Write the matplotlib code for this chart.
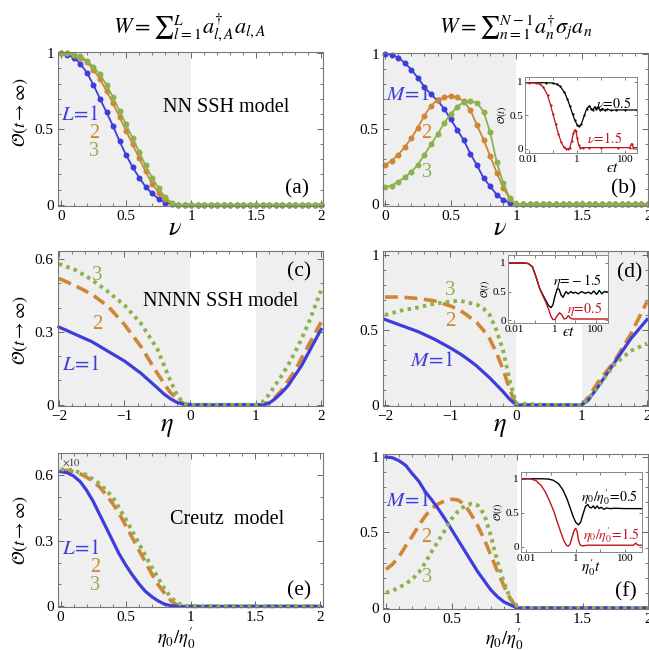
import matplotlib
matplotlib.use('Agg')
import matplotlib.pyplot as plt
from matplotlib.ticker import MultipleLocator, NullFormatter, LogLocator

plt.rcParams['font.family'] = ['Liberation Serif', 'DejaVu Serif']
plt.rcParams['mathtext.fontset'] = 'stix'

BLUE = '#3d3ddb'
ORANGE = '#d08636'
GREEN = '#8bb24c'
RED = '#c0141c'
SHADE = '#efefef'

# ---------------- data ----------------
# panel (a): NN SSH, W = sum a^dag_{l,A} a_{l,A}
nu_a = [0.00, 0.05, 0.10, 0.15, 0.20, 0.25, 0.30, 0.35, 0.40, 0.45, 0.50, 0.55, 0.60, 0.65,
        0.70, 0.75, 0.80, 0.85, 0.90, 0.95, 1.00, 1.05, 1.10, 1.15, 1.20, 1.25, 1.30, 1.35,
        1.40, 1.45, 1.50, 1.55, 1.60, 1.65, 1.70, 1.75, 1.80, 1.85, 1.90, 1.95, 2.00]
a_L1 = [1.0, 0.99, 0.97, 0.93, 0.87, 0.79, 0.70, 0.61, 0.52, 0.42, 0.33, 0.25, 0.18, 0.12,
        0.075, 0.04, 0.015, 0.003, 0.0, 0.0, 0.0, 0.0, 0.0, 0.0, 0.0, 0.0, 0.0, 0.0,
        0.0, 0.0, 0.0, 0.0, 0.0, 0.0, 0.0, 0.0, 0.0, 0.0, 0.0, 0.0, 0.0]
a_L2 = [1.0, 1.0, 0.99, 0.97, 0.94, 0.89, 0.83, 0.75, 0.67, 0.58, 0.49, 0.40, 0.31, 0.22,
        0.14, 0.08, 0.035, 0.008, 0.0, 0.0, 0.0, 0.0, 0.0, 0.0, 0.0, 0.0, 0.0, 0.0,
        0.0, 0.0, 0.0, 0.0, 0.0, 0.0, 0.0, 0.0, 0.0, 0.0, 0.0, 0.0, 0.0]
a_L3 = [1.0, 1.0, 0.99, 0.98, 0.95, 0.91, 0.86, 0.79, 0.71, 0.62, 0.53, 0.44, 0.35, 0.26,
        0.18, 0.11, 0.05, 0.015, 0.0, 0.0, 0.0, 0.0, 0.0, 0.0, 0.0, 0.0, 0.0, 0.0,
        0.0, 0.0, 0.0, 0.0, 0.0, 0.0, 0.0, 0.0, 0.0, 0.0, 0.0, 0.0, 0.0]

# panel (b): NN SSH, W = sum a^dag_n sigma_j a_n
nu_b = nu_a
b_M1 = [1.0, 0.995, 0.975, 0.94, 0.895, 0.84, 0.78, 0.73, 0.69, 0.635, 0.565, 0.495, 0.425,
        0.335, 0.26, 0.175, 0.12, 0.065, 0.03, 0.012, 0.0, 0.0, 0.0, 0.0, 0.0, 0.0, 0.0,
        0.0, 0.0, 0.0, 0.0, 0.0, 0.0, 0.0, 0.0, 0.0, 0.0, 0.0, 0.0, 0.0, 0.0]
b_M2 = [0.26, 0.29, 0.33, 0.38, 0.44, 0.51, 0.59, 0.655, 0.695, 0.71, 0.72, 0.71, 0.685,
        0.625, 0.525, 0.43, 0.32, 0.21, 0.11, 0.035, 0.0, 0.0, 0.0, 0.0, 0.0, 0.0, 0.0,
        0.0, 0.0, 0.0, 0.0, 0.0, 0.0, 0.0, 0.0, 0.0, 0.0, 0.0, 0.0, 0.0, 0.0]
b_M3 = [0.115, 0.125, 0.15, 0.18, 0.215, 0.265, 0.33, 0.40, 0.465, 0.54, 0.60, 0.65, 0.68,
        0.685, 0.675, 0.615, 0.48, 0.28, 0.14, 0.04, 0.0, 0.0, 0.0, 0.0, 0.0, 0.0, 0.0,
        0.0, 0.0, 0.0, 0.0, 0.0, 0.0, 0.0, 0.0, 0.0, 0.0, 0.0, 0.0, 0.0, 0.0]

# inset (b)
tb_black = [0.006, 0.05, 0.1, 0.15, 0.2, 0.3, 0.4, 0.5, 0.65, 0.8, 1.0, 1.2, 1.5, 2.0, 2.5,
            3.2, 3.8, 4.5, 5.3, 6.3, 7.5, 9.0, 11, 14, 18, 25, 40, 100, 300]
ob_black = [0.985, 0.985, 0.98, 0.96, 0.93, 0.84, 0.74, 0.64, 0.52, 0.43, 0.36, 0.335, 0.37,
            0.50, 0.60, 0.64, 0.60, 0.58, 0.625, 0.59, 0.62, 0.575, 0.60, 0.575, 0.59, 0.575,
            0.58, 0.58, 0.58]
tb_red = [0.006, 0.01, 0.02, 0.03, 0.04, 0.06, 0.08, 0.1, 0.13, 0.17, 0.22, 0.28, 0.35, 0.42,
          0.5, 0.6, 0.7, 0.8, 0.9, 1.0, 1.15, 1.35, 1.7, 3, 10, 50, 150, 180, 210, 300]
ob_red = [0.985, 0.985, 0.98, 0.96, 0.92, 0.80, 0.65, 0.52, 0.37, 0.22, 0.10, 0.03, 0.005, 0.0,
          0.02, 0.12, 0.23, 0.285, 0.26, 0.17, 0.06, 0.015, 0.02, 0.02, 0.02, 0.02, 0.02, 0.08,
          0.02, 0.02]

# panel (c): NNNN SSH, W = sum a^dag_{l,A} a_{l,A}
eta_c = [-2.0, -1.75, -1.5, -1.25, -1.0, -0.75, -0.5, -0.4, -0.3, -0.2, -0.1, 0.0, 0.5, 1.0,
         1.1, 1.2, 1.3, 1.4, 1.5, 1.6, 1.7, 1.8, 1.9, 2.0]
c_L1 = [0.32, 0.29, 0.26, 0.22, 0.18, 0.13, 0.07, 0.045, 0.025, 0.01, 0.002, 0.0, 0.0, 0.0,
        0.0, 0.005, 0.025, 0.05, 0.08, 0.12, 0.16, 0.21, 0.26, 0.31]
c_L2 = [0.52, 0.49, 0.455, 0.405, 0.33, 0.24, 0.13, 0.09, 0.05, 0.025, 0.005, 0.0, 0.0, 0.0,
        0.0, 0.01, 0.03, 0.06, 0.10, 0.14, 0.19, 0.24, 0.29, 0.34]
c_L3 = [0.58, 0.555, 0.515, 0.465, 0.41, 0.335, 0.23, 0.165, 0.10, 0.04, 0.005, 0.0, 0.0, 0.0,
        0.01, 0.04, 0.08, 0.12, 0.165, 0.215, 0.27, 0.33, 0.40, 0.47]

# panel (d): NNNN SSH, W = sum a^dag_n sigma_j a_n
eta_d = [-2.0, -1.75, -1.5, -1.25, -1.0, -0.85, -0.75, -0.6, -0.5, -0.4, -0.3, -0.2, -0.1, 0.0,
         0.5, 1.0, 1.1, 1.25, 1.5, 1.75, 2.0]
d_M1 = [0.57, 0.53, 0.49, 0.44, 0.38, 0.34, 0.31, 0.26, 0.22, 0.18, 0.135, 0.09, 0.04, 0.0,
        0.0, 0.0, 0.03, 0.12, 0.28, 0.44, 0.57]
d_M2 = [0.72, 0.72, 0.71, 0.695, 0.66, 0.63, 0.60, 0.55, 0.50, 0.44, 0.35, 0.24, 0.11, 0.0,
        0.0, 0.0, 0.05, 0.15, 0.29, 0.47, 0.69]
d_M3 = [0.60, 0.63, 0.65, 0.675, 0.69, 0.695, 0.685, 0.67, 0.645, 0.60, 0.50, 0.37, 0.17, 0.01,
        0.0, 0.0, 0.04, 0.12, 0.27, 0.36, 0.41]

# inset (d)
td_black = [0.005, 0.03, 0.05, 0.08, 0.12, 0.18, 0.25, 0.35, 0.5, 0.65, 0.8, 1.0, 1.3, 1.6,
            2.0, 2.5, 3.0, 3.5, 4.5, 6, 8, 10, 14, 20, 30, 45, 60, 80, 110, 150, 200, 260, 400]
od_black = [1.0, 1.0, 0.99, 0.93, 0.75, 0.55, 0.45, 0.35, 0.25, 0.22, 0.27, 0.42, 0.55, 0.54,
            0.44, 0.40, 0.46, 0.50, 0.46, 0.50, 0.47, 0.49, 0.46, 0.50, 0.47, 0.49, 0.46, 0.51,
            0.45, 0.52, 0.46, 0.50, 0.49]
td_red = [0.005, 0.03, 0.05, 0.08, 0.12, 0.18, 0.25, 0.35, 0.5, 0.65, 0.8, 1.0, 1.3, 1.7, 2.2,
          2.8, 3.5, 4.5, 6, 8, 400]
od_red = [1.0, 1.0, 0.99, 0.93, 0.75, 0.55, 0.43, 0.32, 0.18, 0.06, 0.01, 0.01, 0.08, 0.13,
          0.09, 0.02, 0.03, 0.08, 0.03, 0.02, 0.02]

# panel (e): Creutz, W = sum a^dag_{l,A} a_{l,A}  (x10)
x_e = [0.0, 0.05, 0.1, 0.15, 0.2, 0.25, 0.3, 0.35, 0.4, 0.45, 0.5, 0.55, 0.6, 0.65, 0.7, 0.75,
       0.8, 0.85, 0.9, 0.95, 1.0, 1.5, 2.0]
e_L1 = [0.615, 0.61, 0.595, 0.57, 0.53, 0.48, 0.42, 0.36, 0.30, 0.24, 0.19, 0.145, 0.105, 0.07,
        0.045, 0.025, 0.01, 0.003, 0.0, 0.0, 0.0, 0.0, 0.0]
e_L2 = [0.62, 0.62, 0.615, 0.605, 0.59, 0.57, 0.545, 0.51, 0.47, 0.425, 0.37, 0.315, 0.26,
        0.205, 0.15, 0.10, 0.06, 0.025, 0.005, 0.0, 0.0, 0.0, 0.0]
e_L3 = [0.625, 0.625, 0.62, 0.61, 0.60, 0.58, 0.56, 0.53, 0.50, 0.45, 0.40, 0.345, 0.29, 0.235,
        0.18, 0.13, 0.08, 0.04, 0.015, 0.003, 0.0, 0.0, 0.0]

# panel (f): Creutz, W = sum a^dag_n sigma_j a_n
x_f = [0.0, 0.05, 0.1, 0.15, 0.2, 0.25, 0.3, 0.35, 0.4, 0.45, 0.5, 0.55, 0.6, 0.65, 0.7, 0.75,
       0.8, 0.85, 0.9, 0.95, 1.0, 1.05, 1.5, 2.0]
f_M1 = [1.0, 0.995, 0.975, 0.945, 0.89, 0.84, 0.77, 0.715, 0.655, 0.59, 0.52, 0.45, 0.38,
        0.31, 0.24, 0.18, 0.12, 0.075, 0.04, 0.02, 0.0, 0.0, 0.0, 0.0]
f_M2 = [0.255, 0.29, 0.34, 0.41, 0.475, 0.545, 0.61, 0.66, 0.69, 0.71, 0.72, 0.715, 0.685,
        0.62, 0.545, 0.455, 0.35, 0.245, 0.145, 0.06, 0.0, 0.0, 0.0, 0.0]
f_M3 = [0.10, 0.115, 0.135, 0.16, 0.19, 0.235, 0.30, 0.375, 0.445, 0.515, 0.59, 0.64, 0.675,
        0.69, 0.68, 0.62, 0.48, 0.31, 0.17, 0.06, 0.01, 0.0, 0.0, 0.0]

# inset (f)
tf_black = [0.006, 0.05, 0.08, 0.12, 0.2, 0.3, 0.45, 0.6, 0.8, 1.0, 1.3, 1.6, 2.0, 2.5, 3.1,
            3.7, 4.4, 5.2, 6.2, 7.5, 9, 11, 14, 18, 25, 40, 100, 500]
of_black = [1.0, 1.0, 0.995, 0.98, 0.93, 0.84, 0.70, 0.57, 0.44, 0.36, 0.32, 0.36, 0.48, 0.59,
            0.62, 0.58, 0.57, 0.60, 0.56, 0.60, 0.56, 0.58, 0.55, 0.57, 0.56, 0.565, 0.56, 0.56]
tf_red = [0.006, 0.015, 0.025, 0.04, 0.06, 0.09, 0.13, 0.18, 0.25, 0.33, 0.42, 0.5, 0.6, 0.72,
          0.85, 1.0, 1.15, 1.3, 1.5, 1.8, 3, 10, 100, 220, 280, 340, 500]
of_red = [1.0, 1.0, 0.97, 0.90, 0.80, 0.66, 0.52, 0.36, 0.21, 0.09, 0.02, 0.005, 0.04, 0.14,
          0.23, 0.27, 0.22, 0.10, 0.03, 0.01, 0.02, 0.02, 0.02, 0.02, 0.05, 0.02, 0.02]

# ---------------- figure ----------------
W, H = 649, 650
fig = plt.figure(figsize=(W / 100, H / 100), dpi=100)


def rect(l, t, r, b):
    return [l / W, 1 - b / H, (r - l) / W, (b - t) / H]


def ftxt(x, y, s, **kw):
    kw.setdefault('ha', 'center')
    kw.setdefault('va', 'center')
    fig.text(x / W, 1 - y / H, s, **kw)


def setup(ax, xlim, ylim, xt, xtl, yt, ytl, xminor, yminor):
    ax.set_xlim(*xlim)
    ax.set_ylim(*ylim)
    ax.set_xticks(xt)
    ax.set_xticklabels(xtl)
    ax.set_yticks(yt)
    ax.set_yticklabels(ytl)
    ax.xaxis.set_minor_locator(MultipleLocator(xminor))
    ax.yaxis.set_minor_locator(MultipleLocator(yminor))
    ax.tick_params(which='both', direction='in', top=True, right=True, color='#666',
                   labelsize=11, pad=3)
    ax.tick_params(which='major', length=4, width=0.7)
    ax.tick_params(which='minor', length=2, width=0.6)
    for s in ax.spines.values():
        s.set_color('#777')
        s.set_linewidth(0.8)


def setup_inset(ax, xlim, ylim):
    ax.set_xscale('log')
    ax.set_xlim(*xlim)
    ax.set_ylim(*ylim)
    ax.set_xticks([0.01, 1, 100])
    ax.set_xticklabels(['0.01', '1', '100'])
    ax.xaxis.set_minor_locator(LogLocator(base=10, subs=(10.0,), numticks=10))
    ax.xaxis.set_minor_formatter(NullFormatter())
    ax.set_yticks([0, 0.5, 1])
    ax.set_yticklabels(['0', '0.5', '1'])
    ax.tick_params(which='both', direction='in', top=True, right=True, color='#666',
                   labelsize=8, pad=1.5, length=2.5, width=0.6)
    for s in ax.spines.values():
        s.set_color('#888')
        s.set_linewidth(0.7)


xt02 = [0, 0.5, 1, 1.5, 2]
xtl02 = ['0', '0.5', '1', '1.5', '2']
xt22 = [-2, -1, 0, 1, 2]
xtl22 = ['\u22122', '\u22121', '0', '1', '2']

# (a)
ax = fig.add_axes(rect(58, 52, 323, 206))
setup(ax, (-0.023, 2.015), (-0.008, 1.008), xt02, xtl02, [0, 0.5, 1], ['0', '0.5', '1'], 0.1, 0.1)
ax.axvspan(-0.1, 1.0, color=SHADE, lw=0, zorder=0)
for y, c in ((a_L1, BLUE), (a_L2, ORANGE), (a_L3, GREEN)):
    ax.plot(nu_a, y, '-o', color=c, lw=1.3, ms=4.3, mew=0, clip_on=False)

# (b)
ax = fig.add_axes(rect(383, 53, 648, 206))
setup(ax, (-0.015, 2.0), (-0.01, 1.005), xt02, xtl02, [0, 0.5, 1], ['0', '0.5', '1'], 0.1, 0.1)
ax.axvspan(-0.1, 1.0, color=SHADE, lw=0, zorder=0)
for y, c in ((b_M1, BLUE), (b_M2, ORANGE), (b_M3, GREEN)):
    ax.plot(nu_b, y, '-o', color=c, lw=1.3, ms=4.3, mew=0, clip_on=False)

# (c)
ax = fig.add_axes(rect(58, 251, 323, 406))
setup(ax, (-2.015, 2.03), (-0.005, 0.633), xt22, xtl22, [0, 0.3, 0.6], ['0', '0.3', '0.6'], 0.2, 0.1)
ax.axvspan(-3, 0.0, color=SHADE, lw=0, zorder=0)
ax.axvspan(1.0, 3, color=SHADE, lw=0, zorder=0)
l2, = ax.plot(eta_c, c_L2, color=ORANGE, lw=2.6, clip_on=False)
l2.set_dashes((3.6, 1.8))
ax.plot(eta_c, c_L1, color=BLUE, lw=2.3, clip_on=False)
ax.plot(eta_c, c_L3, color=GREEN, lw=2.8, ls=(0, (0.9, 1.1)), clip_on=False)

# (d)
ax = fig.add_axes(rect(383, 251, 648, 406))
setup(ax, (-2.03, 2.015), (-0.007, 1.027), xt22, xtl22, [0, 0.5, 1], ['0', '0.5', '1'], 0.2, 0.1)
ax.axvspan(-3, 0.0, color=SHADE, lw=0, zorder=0)
ax.axvspan(1.0, 3, color=SHADE, lw=0, zorder=0)
l2, = ax.plot(eta_d, d_M2, color=ORANGE, lw=2.6, clip_on=False)
l2.set_dashes((3.6, 1.8))
ax.plot(eta_d, d_M1, color=BLUE, lw=2.3, clip_on=False)
ax.plot(eta_d, d_M3, color=GREEN, lw=2.8, ls=(0, (0.9, 1.1)), clip_on=False)

# (e)
ax = fig.add_axes(rect(58, 453, 323, 607))
setup(ax, (-0.02, 2.02), (-0.003, 0.70), xt02, xtl02, [0, 0.3, 0.6], ['0', '0.3', '0.6'], 0.1, 0.1)
ax.axvspan(-0.1, 1.0, color=SHADE, lw=0, zorder=0)
l2, = ax.plot(x_e, e_L2, color=ORANGE, lw=2.6, clip_on=False)
l2.set_dashes((3.6, 1.8))
ax.plot(x_e, e_L1, color=BLUE, lw=2.3, clip_on=False)
ax.plot(x_e, e_L3, color=GREEN, lw=2.8, ls=(0, (0.9, 1.1)), clip_on=False)

# (f)
ax = fig.add_axes(rect(383, 454, 648, 609))
setup(ax, (-0.023, 2.0), (-0.007, 1.02), xt02, xtl02, [0, 0.5, 1], ['0', '0.5', '1'], 0.1, 0.1)
ax.axvspan(-0.1, 1.0, color=SHADE, lw=0, zorder=0)
l2, = ax.plot(x_f, f_M2, color=ORANGE, lw=2.6, clip_on=False)
l2.set_dashes((3.6, 1.8))
ax.plot(x_f, f_M1, color=BLUE, lw=2.3, clip_on=False)
ax.plot(x_f, f_M3, color=GREEN, lw=2.8, ls=(0, (0.9, 1.1)), clip_on=False)

# insets
ins = fig.add_axes(rect(525, 77, 637, 153))
setup_inset(ins, (0.007, 300), (-0.06, 1.07))
ins.plot(tb_black, ob_black, '-', color='black', lw=0.9, marker='o', ms=1.6, mew=0)
ins.plot(tb_red, ob_red, '-', color=RED, lw=0.9, marker='o', ms=1.6, mew=0)
ins.set_ylabel(r'$\mathcal{O}(t)$', fontsize=7, labelpad=0)
ins.text(0.78, -0.2, r'$ϵt$', transform=ins.transAxes, fontsize=11, ha='center', va='center')

ins = fig.add_axes(rect(508, 255, 608, 323))
setup_inset(ins, (0.005, 400), (-0.05, 1.14))
ins.plot(td_black, od_black, '-', color='black', lw=1.0)
ins.plot(td_red, od_red, '-', color=RED, lw=1.0)
ins.set_ylabel(r'$\mathcal{O}(t)$', fontsize=7, labelpad=0)
ins.text(0.61, -0.14, r'$ϵt$', transform=ins.transAxes, fontsize=11, ha='center', va='center')

ins = fig.add_axes(rect(521, 472, 642, 552))
setup_inset(ins, (0.006, 500), (-0.08, 1.1))
ins.plot(tf_black, of_black, '-', color='black', lw=1.0)
ins.plot(tf_red, of_red, '-', color=RED, lw=1.0)
ins.set_ylabel(r'$\mathcal{O}(t)$', fontsize=7, labelpad=0)
ins.text(0.58, -0.2, r"$\eta_0^{\prime}t$", transform=ins.transAxes, fontsize=11, ha='center', va='center')

# ---------------- texts ----------------
ftxt(190, 33, r'$W=∑_{l=1}^{L}a_{l,A}^{\dagger}a_{l,A}$', fontsize=16, va='baseline')
ftxt(516, 33, r'$W=∑_{n=1}^{N-1}a_{n}^{\dagger}\sigma_{j}a_{n}$', fontsize=16, va='baseline')

ylab = r'$\mathcal{O}(t\rightarrow\infty)$'
ftxt(20, 112, ylab, fontsize=13, rotation=90)
ftxt(20, 330, ylab, fontsize=13, rotation=90)
ftxt(20, 530, ylab, fontsize=13, rotation=90)

ftxt(175, 229, r'$\nu$', fontsize=19)
ftxt(500, 229, r'$\nu$', fontsize=19)
ftxt(167, 428, r'$\eta$', fontsize=19)
ftxt(500, 428, r'$\eta$', fontsize=19)
ftxt(176, 638, r"$\eta_0/\eta_0^{\prime}$", fontsize=13.5)
ftxt(504, 639, r"$\eta_0/\eta_0^{\prime}$", fontsize=13.5)

# (a)
ftxt(80, 115, r'$L\!=\!1$', fontsize=15, color=BLUE)
ftxt(94, 133, '2', fontsize=14.5, color=ORANGE)
ftxt(94, 151, '3', fontsize=14.5, color=GREEN)
ftxt(226, 108, 'NN SSH model', fontsize=14.5)
ftxt(297, 189, '(a)', fontsize=15.5)
# (b)
ftxt(408, 95, r'$M\!=\!1$', fontsize=15, color=BLUE)
ftxt(426, 133, '2', fontsize=14.5, color=ORANGE)
ftxt(427, 172, '3', fontsize=14.5, color=GREEN)
ftxt(624, 189, '(b)', fontsize=15.5)
ftxt(614, 103, r'$\nu\!=\!0.5$', fontsize=10)
ftxt(605, 139, r'$\nu\!=\!1.5$', fontsize=10, color=RED)
# (c)
ftxt(97, 275, '3', fontsize=15, color=GREEN)
ftxt(97, 324, '2', fontsize=15, color=ORANGE)
ftxt(81, 366, r'$L\!=\!1$', fontsize=15, color=BLUE)
ftxt(221, 302, 'NNNN SSH model', fontsize=14.5)
ftxt(299, 272, '(c)', fontsize=15.5)
# (d)
ftxt(630, 273, '(d)', fontsize=15.5)
ftxt(450, 291, '3', fontsize=15, color=GREEN)
ftxt(450, 322, '2', fontsize=15, color=ORANGE)
ftxt(432, 362, r'$M\!=\!1$', fontsize=15, color=BLUE)
ftxt(577, 281, r'$\eta\!=\!-1.5$', fontsize=10)
ftxt(585, 309, r'$\eta\!=\!0.5$', fontsize=10, color=RED)
# (e)
ftxt(71, 462, r'$\times 10$', fontsize=7.5, color='#333')
ftxt(227, 520, 'Creutz  model', fontsize=14.5)
ftxt(81, 549, r'$L\!=\!1$', fontsize=15, color=BLUE)
ftxt(95, 567, '2', fontsize=14.5, color=ORANGE)
ftxt(95, 586, '3', fontsize=14.5, color=GREEN)
ftxt(299, 591, '(e)', fontsize=15.5)
# (f)
ftxt(408, 501, r'$M\!=\!1$', fontsize=15, color=BLUE)
ftxt(426, 538, '2', fontsize=14.5, color=ORANGE)
ftxt(427, 578, '3', fontsize=14.5, color=GREEN)
ftxt(626, 592, '(f)', fontsize=15.5)
ftxt(609, 497, r"$\eta_0/\eta_0^{\prime}\!=\!0.5$", fontsize=10)
ftxt(611, 535, r"$\eta_0/\eta_0^{\prime}\!=\!1.5$", fontsize=10, color=RED)

fig.savefig('out.png', dpi=100)
